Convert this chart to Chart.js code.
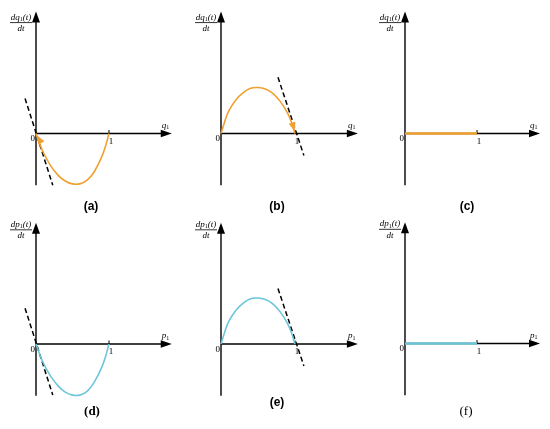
<!DOCTYPE html>
<html><head><meta charset="utf-8">
<script src="https://cdn.jsdelivr.net/npm/chart.js@4/dist/chart.umd.min.js"></script>
<style>
html,body{margin:0;padding:0;background:#fff;}
#wrap{position:relative;width:550px;height:429px;overflow:hidden;background:#fff;}
canvas{position:absolute;}
</style></head><body><div id="wrap"></div>
<script>
// ---- data ----
const stateGrid = [0, 0.05, 0.1, 0.2, 0.3, 0.4, 0.5, 0.6, 0.7, 0.8, 0.9, 0.95, 1];
const rateA = [0, -0.14, -0.26, -0.44, -0.57, -0.65, -0.69, -0.69, -0.64, -0.52, -0.32, -0.18, 0];
const rateB = [0, 0.16, 0.30, 0.46, 0.56, 0.62, 0.63, 0.61, 0.55, 0.44, 0.28, 0.16, 0];
const flatGrid = [0, 1];
const rateC = [0, 0];
const rateD = [0, -0.14, -0.26, -0.44, -0.57, -0.66, -0.70, -0.70, -0.65, -0.52, -0.32, -0.18, 0];
const rateE = [0, 0.16, 0.30, 0.46, 0.56, 0.62, 0.63, 0.61, 0.55, 0.44, 0.28, 0.16, 0];
const rateF = [0, 0];
const tangentAx = [-0.15, 0.23], tangentAy = [0.48, -0.71];
const tangentBx = [0.77, 1.12], tangentBy = [0.77, -0.30];
const tangentDx = [-0.15, 0.23], tangentDy = [0.49, -0.70];
const tangentEx = [0.77, 1.12], tangentEy = [0.76, -0.30];
const tickLabels = ["0", "1"];
const captions = ["(a)", "(b)", "(c)", "(d)", "(e)", "(f)"];
const variables = ["q", "q", "q", "p", "p", "p"];

// ---- layout / style ----
const ORANGE = '#F0A030', CYAN = '#6CC6D8';
const panels = [
  {left:0,   top:0,   w:183, h:220, ox:36, oy:133.5, ux:73, uy:73, xs:stateGrid, ys:rateA, tx:tangentAx, ty:tangentAy, color:ORANGE,
   arrow:{tip:[0.012,-0.025], base:[0.085,-0.15]}, axTop:1.67, axBot:-0.71, axRight:1.86, labDy:11, cap:{x:91, y:207, font:"bold 12px 'Liberation Sans'"}},
  {left:183, top:0,   w:183, h:220, ox:38, oy:133.5, ux:74, uy:73, xs:stateGrid, ys:rateB, tx:tangentBx, ty:tangentBy, color:ORANGE,
   arrow:{tip:[0.995,0.03], base:[0.955,0.17]}, axTop:1.67, axBot:-0.71, axRight:1.85, labDy:11, cap:{x:94, y:207, font:"bold 12px 'Liberation Sans'"}},
  {left:366, top:0,   w:184, h:220, ox:39, oy:133.5, ux:72, uy:73, xs:flatGrid, ys:rateC, color:ORANGE, flat:true,
   axTop:1.67, axBot:-0.71, axRight:1.875, labDy:11, cap:{x:101, y:207, font:"bold 12px 'Liberation Sans'"}},
  {left:0,   top:212, w:183, h:217, ox:36, oy:132, ux:73, uy:73, xs:stateGrid, ys:rateD, tx:tangentDx, ty:tangentDy, color:CYAN,
   axTop:1.66, axBot:-0.71, axRight:1.86, labDy:7, cap:{x:92, y:200, font:"bold 13px 'Liberation Serif'"}},
  {left:183, top:212, w:183, h:217, ox:38, oy:132, ux:74, uy:73, xs:stateGrid, ys:rateE, tx:tangentEx, ty:tangentEy, color:CYAN,
   axTop:1.66, axBot:-0.71, axRight:1.85, labDy:7, cap:{x:94, y:191, font:"bold 12px 'Liberation Sans'"}},
  {left:366, top:212, w:184, h:217, ox:39, oy:131.5, ux:72, uy:73, xs:flatGrid, ys:rateF, color:CYAN, flat:true,
   axTop:1.66, axBot:-0.71, axRight:1.875, labDy:7, cap:{x:100, y:200, font:"13px 'Liberation Serif'"}}
];

const deco = {
  id: 'deco',
  beforeDatasetsDraw(chart, args, opts) {
    const p = opts.panel, {ctx} = chart, xs = chart.scales.x, ys = chart.scales.y;
    const X = v => xs.getPixelForValue(v), Y = v => ys.getPixelForValue(v);
    const x0 = X(0), y0 = Y(0), yt = Y(p.axTop), xr = X(p.axRight);
    ctx.save();
    ctx.strokeStyle = '#000'; ctx.fillStyle = '#000'; ctx.lineWidth = 1.4;
    ctx.beginPath(); ctx.moveTo(x0, Y(p.axBot)); ctx.lineTo(x0, yt + 8); ctx.stroke();
    ctx.beginPath(); ctx.moveTo(x0, yt); ctx.lineTo(x0 - 4, yt + 11); ctx.lineTo(x0 + 4, yt + 11); ctx.closePath(); ctx.fill();
    ctx.beginPath(); ctx.moveTo(x0, y0); ctx.lineTo(xr - 8, y0); ctx.stroke();
    ctx.beginPath(); ctx.moveTo(xr, y0); ctx.lineTo(xr - 11, y0 - 3.8); ctx.lineTo(xr - 11, y0 + 3.8); ctx.closePath(); ctx.fill();
    ctx.lineWidth = 1;
    ctx.beginPath(); ctx.moveTo(X(1), y0); ctx.lineTo(X(1), y0 - 3.5); ctx.stroke();
    // tick labels
    ctx.font = "9px 'Liberation Serif'"; ctx.textBaseline = 'alphabetic';
    ctx.textAlign = 'right'; ctx.fillText(tickLabels[0], x0 - 1, y0 + 7.5);
    ctx.textAlign = 'center'; ctx.fillText(tickLabels[1], X(1) + 2, y0 + 10);
    // x-axis variable label
    const v = variables[p.idx];
    ctx.textAlign = 'left';
    ctx.font = "italic 9px 'Liberation Serif'";
    ctx.fillText(v, xr - 10, y0 - 6);
    const vw = ctx.measureText(v).width;
    ctx.font = "6px 'Liberation Serif'";
    ctx.fillText('1', xr - 10 + vw, y0 - 4.5);
    // y-axis fraction label
    const barY = yt + p.labDy, cx = x0 - 15;
    ctx.font = "italic 9px 'Liberation Serif'";
    const a = 'd' + v, b = '(t)';
    const wa = ctx.measureText(a).width, wb = ctx.measureText(b).width;
    ctx.font = "6px 'Liberation Serif'"; const ws = ctx.measureText('1').width;
    let sx = cx - (wa + ws + wb) / 2;
    ctx.font = "italic 9px 'Liberation Serif'"; ctx.fillText(a, sx, barY - 3);
    ctx.font = "6px 'Liberation Serif'"; ctx.fillText('1', sx + wa, barY - 1.5);
    ctx.font = "italic 9px 'Liberation Serif'"; ctx.fillText(b, sx + wa + ws, barY - 3);
    ctx.textAlign = 'center'; ctx.fillText('dt', cx, barY + 8.5);
    ctx.lineWidth = 0.8;
    ctx.beginPath(); ctx.moveTo(cx - 11, barY); ctx.lineTo(cx + 11, barY); ctx.stroke();
    // caption
    ctx.font = p.cap.font; ctx.textAlign = 'center'; ctx.textBaseline = 'middle';
    ctx.fillText(captions[p.idx], p.cap.x, p.cap.y);
    ctx.restore();
  },
  afterDatasetsDraw(chart, args, opts) {
    const p = opts.panel; if (!p.arrow) return;
    const {ctx} = chart, xs = chart.scales.x, ys = chart.scales.y;
    const tx = xs.getPixelForValue(p.arrow.tip[0]), ty = ys.getPixelForValue(p.arrow.tip[1]);
    const bx = xs.getPixelForValue(p.arrow.base[0]), by = ys.getPixelForValue(p.arrow.base[1]);
    let dx = tx - bx, dy = ty - by; const L = Math.hypot(dx, dy); dx /= L; dy /= L;
    const len = 9, hw = 3.5;
    const cx = tx - dx * len, cy = ty - dy * len;
    ctx.save(); ctx.fillStyle = p.color;
    ctx.beginPath(); ctx.moveTo(tx, ty); ctx.lineTo(cx - dy * hw, cy + dx * hw); ctx.lineTo(cx + dy * hw, cy - dx * hw); ctx.closePath(); ctx.fill();
    ctx.restore();
  }
};

const wrap = document.getElementById('wrap');
panels.forEach((p, idx) => {
  p.idx = idx;
  const c = document.createElement('canvas');
  c.width = p.w; c.height = p.h; c.style.left = p.left + 'px'; c.style.top = p.top + 'px';
  wrap.appendChild(c);
  const datasets = [{
    data: p.xs.map((x, i) => ({x, y: p.ys[i]})), showLine: true, borderColor: p.color,
    borderWidth: p.flat ? 2.4 : 1.6, tension: 0.4, pointRadius: 0, fill: false
  }];
  if (p.tx) datasets.push({
    data: p.tx.map((x, i) => ({x, y: p.ty[i]})), showLine: true, borderColor: '#000',
    borderWidth: 1.5, borderDash: [5, 3], pointRadius: 0, fill: false
  });
  new Chart(c, {
    type: 'scatter',
    data: {datasets},
    options: {
      responsive: false, animation: false, devicePixelRatio: 1,
      layout: {padding: 0},
      scales: {
        x: {type: 'linear', display: false, min: -p.ox / p.ux, max: (p.w - p.ox) / p.ux},
        y: {type: 'linear', display: false, min: -(p.h - p.oy) / p.uy, max: p.oy / p.uy}
      },
      plugins: {legend: {display: false}, tooltip: {enabled: false}, deco: {panel: p}}
    },
    plugins: [deco]
  });
});
</script>
</body></html>
